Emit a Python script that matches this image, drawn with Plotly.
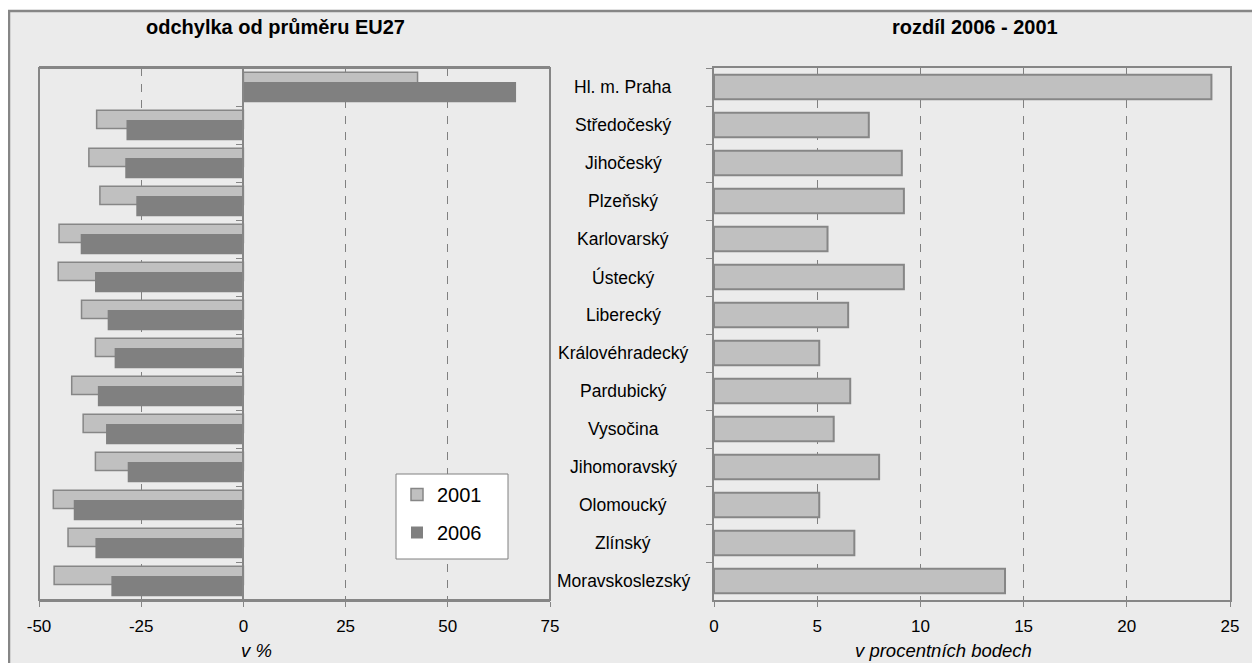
import plotly.graph_objects as go

# the page puts the figure 8 px in from the top-left corner
OFF = 8
W, H = 1260 - OFF, 663 - OFF

regions = ["Hl. m. Praha", "Středočeský", "Jihočeský", "Plzeňský", "Karlovarský",
           "Ústecký", "Liberecký", "Královéhradecký", "Pardubický", "Vysočina",
           "Jihomoravský", "Olomoucký", "Zlínský", "Moravskoslezský"]

dev_2001 = [42.6, -35.9, -37.8, -35.1, -45.1, -45.3, -39.6, -36.2, -42.0, -39.2,
            -36.2, -46.5, -42.9, -46.3]
dev_2006 = [66.7, -28.6, -28.9, -26.2, -39.8, -36.3, -33.2, -31.5, -35.6, -33.6,
            -28.3, -41.5, -36.2, -32.3]
diff_pp = [24.1, 7.5, 9.1, 9.2, 5.5, 9.2, 6.5, 5.1, 6.6, 5.8, 8.0, 5.1, 6.8, 14.1]

left_ticks = [-50, -25, 0, 25, 50, 75]
left_labels = ["-50", "-25", "0", "25", "50", "75"]
right_ticks = [0, 5, 10, 15, 20, 25]
right_labels = ["0", "5", "10", "15", "20", "25"]

LIGHT = "#c0c0c0"
DARK = "#808080"
EDGE = "#868686"
FONT = "Liberation Sans, Arial, sans-serif"


def px_x(v):
    return (v - OFF) / W


def px_y(v):
    return 1 - (v - OFF) / H


left_dom = [px_x(39), px_x(550)]
right_dom = [px_x(714), px_x(1230)]
y_dom = [px_y(600), px_y(68)]
zero_pos = left_dom[0] + (0 - left_ticks[0]) / (left_ticks[-1] - left_ticks[0]) * (left_dom[1] - left_dom[0])

fig = go.Figure()

fig.add_trace(go.Bar(
    x=dev_2001, y=regions, orientation="h", name="2001", legendgroup="a",
    offset=-0.39, width=0.48,
    marker=dict(color=LIGHT, line=dict(color=EDGE, width=1.5)),
    xaxis="x", yaxis="y",
))
fig.add_trace(go.Bar(
    x=dev_2006, y=regions, orientation="h", name="2006", legendgroup="b",
    offset=-0.13, width=0.53,
    marker=dict(color=DARK, line=dict(color=DARK, width=0)),
    xaxis="x", yaxis="y",
))
fig.add_trace(go.Bar(
    x=diff_pp, y=regions, orientation="h", showlegend=False, width=0.65,
    marker=dict(color=LIGHT, line=dict(color=EDGE, width=2)),
    xaxis="x2", yaxis="y2",
))

grid = dict(showgrid=True, gridcolor=DARK, gridwidth=1, griddash="8px,8px")
xcommon = dict(ticks="outside", ticklen=5, tickcolor=EDGE, showline=True,
               linecolor=EDGE, linewidth=2, zeroline=False, automargin=False,
               tickfont=dict(family=FONT, size=17, color="black"),
               ticklabelstandoff=5, fixedrange=True, mirror=True, **grid)
ycommon = dict(autorange="reversed", showticklabels=False, ticks="outside",
               tickson="boundaries", ticklen=6, tickcolor=EDGE, showline=True,
               linecolor=EDGE, linewidth=2, showgrid=False, zeroline=False,
               automargin=False, fixedrange=True)

fig.update_layout(
    width=W, height=H,
    margin=dict(l=0, r=0, t=0, b=0, pad=0, autoexpand=False),
    paper_bgcolor="white", plot_bgcolor="white",
    barmode="overlay",
    font=dict(family=FONT, size=17, color="black"),
    xaxis=dict(domain=left_dom, anchor="y", range=[left_ticks[0], left_ticks[-1]],
               tickvals=left_ticks, ticktext=left_labels, **xcommon),
    yaxis=dict(domain=y_dom, anchor="free", position=zero_pos, **ycommon),
    xaxis2=dict(domain=right_dom, anchor="y2", range=[right_ticks[0], right_ticks[-1]],
                tickvals=right_ticks, ticktext=right_labels, **xcommon),
    yaxis2=dict(domain=y_dom, anchor="x2", mirror=True, **ycommon),
    legend=dict(x=px_x(397), y=px_y(475), xanchor="left", yanchor="top",
                bgcolor="rgba(0,0,0,0)", borderwidth=0,
                font=dict(family=FONT, size=20, color="black"),
                tracegroupgap=9),
    showlegend=True,
)

# outer frame
fig.add_shape(type="rect", xref="paper", yref="paper",
              x0=px_x(9), x1=px_x(1257), y0=-0.05, y1=px_y(11),
              fillcolor="#ebebeb", line=dict(color=EDGE, width=2.5), layer="below")
# left plot border
fig.add_shape(type="rect", xref="x domain", yref="y domain", x0=0, x1=1, y0=0, y1=1,
              line=dict(color=EDGE, width=2), layer="above")
# legend box (wider than plotly's own)
fig.add_shape(type="rect", xref="paper", yref="paper",
              x0=px_x(396), x1=px_x(508), y0=px_y(559), y1=px_y(474),
              fillcolor="white", line=dict(color=DARK, width=1), layer="above")

ann = []


def label(text, x, y, size, yref="paper"):
    ann.append(dict(text=text, x=x, y=y, xref="paper", yref=yref, showarrow=False,
                    xanchor="center", yanchor="middle", font=dict(size=size)))


label("<b>odchylka od průměru EU27</b>", px_x(275), px_y(27), 20)
label("<b>rozdíl 2006 - 2001</b>", px_x(975), px_y(27), 20)
label("<i>v %</i>", px_x(256), px_y(650), 18.5)
label("<i>v procentních bodech</i>", px_x(943), px_y(650), 18.5)
for r in regions:
    label(r, px_x(623), r, 17.5, yref="y2")
fig.update_layout(annotations=ann)

fig.write_html("out.html")
